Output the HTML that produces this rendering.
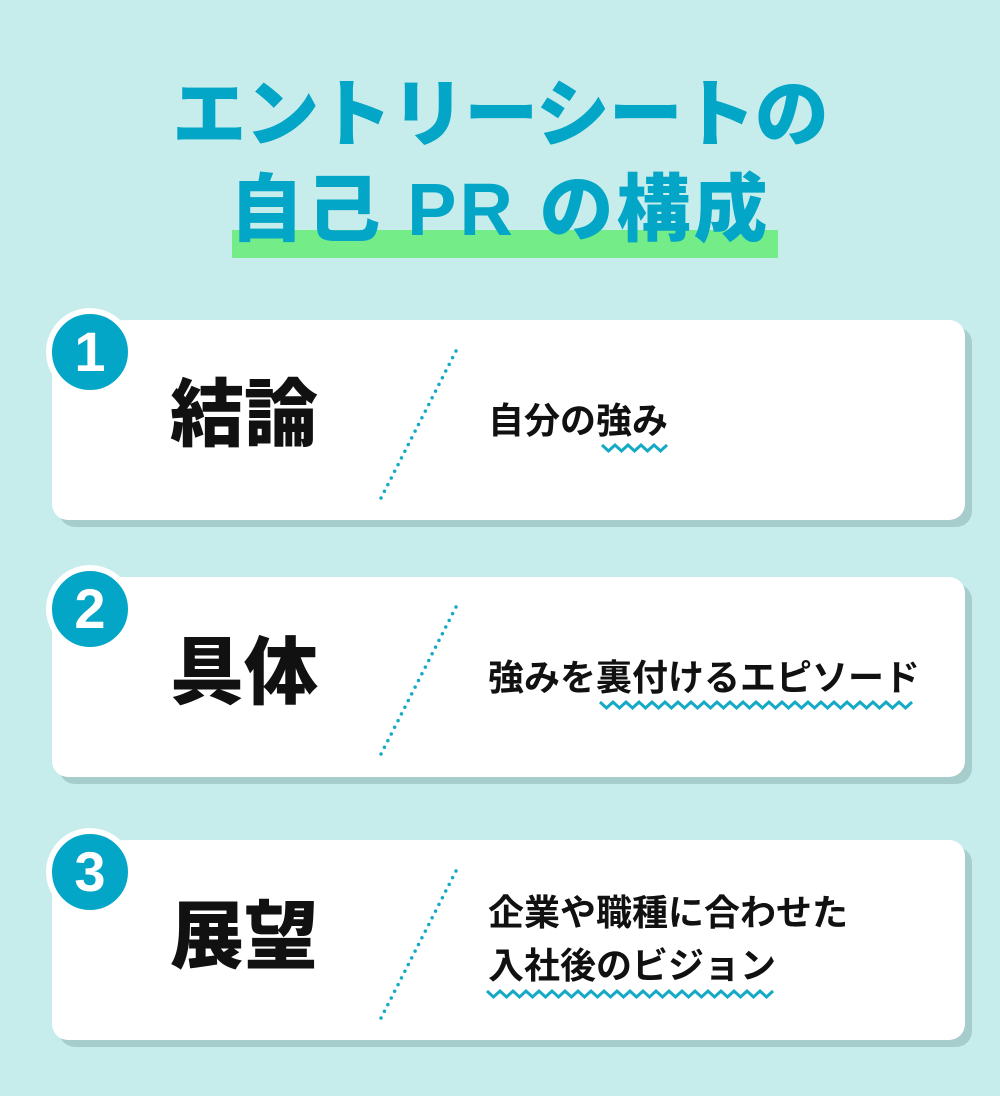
<!DOCTYPE html>
<html><head><meta charset="utf-8"><style>
body{margin:0;width:1000px;height:1096px;background:#c6ecec;position:relative;overflow:hidden;font-family:"Liberation Sans","Noto Sans CJK JP",sans-serif;}
.t{position:absolute;left:0;width:1000px;text-align:center;color:#03a6c6;font-weight:900;font-size:74px;line-height:1;letter-spacing:-1px;}
.hl{position:absolute;left:232px;top:230px;width:546px;height:28px;background:#74ec88;}
.card{position:absolute;left:52px;width:913px;height:200px;background:#fff;border-radius:16px;box-shadow:7px 7px 0 #a6cccc;}
.num{position:absolute;left:46px;width:76px;height:76px;border-radius:50%;background:#03a6c6;border:6px solid #fff;color:#fff;font-weight:900;font-size:56px;text-align:center;line-height:76px;}
.lab{position:absolute;left:170px;font-size:74px;font-weight:900;color:#111;line-height:1;}
.txt{position:absolute;left:488px;font-size:36px;font-weight:700;color:#111;line-height:53px;white-space:nowrap;}
svg{position:absolute;left:0;top:0;}
</style></head><body>
<div class="t" style="top:78px">エントリーシートの</div>
<div class="hl"></div>
<div class="t" style="top:173px;letter-spacing:3px">自己 PR の構成</div>

<div class="card" style="top:320px"></div>
<div class="card" style="top:577px"></div>
<div class="card" style="top:840px"></div>

<div class="num" style="top:308px">1</div>
<div class="num" style="top:565px">2</div>
<div class="num" style="top:828px">3</div>

<div class="lab" style="top:378px">結論</div>
<div class="lab" style="top:636px">具体</div>
<div class="lab" style="top:900px">展望</div>

<div class="txt" style="top:394px">自分の強み</div>
<div class="txt" style="top:651px">強みを裏付けるエピソード</div>
<div class="txt" style="top:886px">企業や職種に合わせた<br>入社後のビジョン</div>

<svg width="1000" height="1096">
<g stroke="#14a9c4" stroke-width="3.5" stroke-linecap="round" stroke-dasharray="0 7.5" fill="none">
<line x1="456" y1="351" x2="380" y2="500"/>
<line x1="456" y1="607" x2="380" y2="756"/>
<line x1="456" y1="871" x2="380" y2="1020"/>
</g>
<g id="waves" stroke="#14a9c4" stroke-width="3" fill="none"></g>
</svg>
<script>
function wave(x1,x2,y){var p=[],s=13,i=0;for(var x=x1;x<=x2;x+=s/2,i++){p.push(x+","+(y+(i%2?3:-3)));}
var e=document.createElementNS("http://www.w3.org/2000/svg","polyline");e.setAttribute("points",p.join(" "));document.getElementById("waves").appendChild(e);}
wave(602,672,448);wave(600,918,705);wave(487,773,994);
</script>
</body></html>
